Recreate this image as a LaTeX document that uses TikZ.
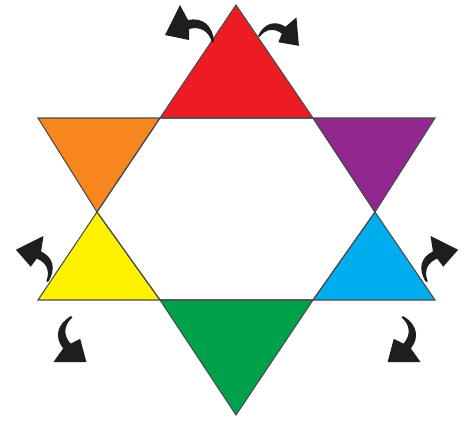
\documentclass[tikz,border=0pt]{standalone}
\definecolor{cred}{HTML}{ED1C24}
\definecolor{corange}{HTML}{F7861E}
\definecolor{cpurple}{HTML}{92278F}
\definecolor{cyellow}{HTML}{FFF200}
\definecolor{cblue}{HTML}{00AEEF}
\definecolor{cgreen}{HTML}{00A14B}
\definecolor{cedge}{HTML}{4A4A4A}
\definecolor{carrow}{HTML}{1E1E1E}
\tikzset{
  tri/.style={draw=cedge, line width=0.6pt, line join=miter},
  swoosh/.pic={
    \fill[carrow] (0,0) .. controls (-1,-17) and (-12,-25) .. (-26,-22)
      -- (-34,-37) -- (-49,-7) -- (-25,-2) -- (-25,-13)
      .. controls (-14,-16) and (-5,-11) .. (-2,0.5) -- cycle;
  }
}
\begin{document}
\begin{tikzpicture}[x=0.02cm,y=-0.02cm]
\useasboundingbox (0,0) rectangle (465,420);
% star points
\coordinate (T) at (236,5);
\coordinate (B) at (236,415);
\coordinate (UL) at (38,118);
\coordinate (UR) at (435,118);
\coordinate (LL) at (38,300);
\coordinate (LR) at (435,300);
\coordinate (h1) at (160,118);
\coordinate (h2) at (313,118);
\coordinate (h3) at (97,212);
\coordinate (h4) at (375,212);
\coordinate (h5) at (160,300);
\coordinate (h6) at (313,300);
% triangles
\fill[tri, fill=cred] (T) -- (h2) -- (h1) -- cycle;
\fill[tri, fill=corange] (UL) -- (h1) -- (h3) -- cycle;
\fill[tri, fill=cpurple] (h2) -- (UR) -- (h4) -- cycle;
\fill[tri, fill=cyellow] (h3) -- (h5) -- (LL) -- cycle;
\fill[tri, fill=cblue] (h4) -- (LR) -- (h6) -- cycle;
\fill[tri, fill=cgreen] (h5) -- (h6) -- (B) -- cycle;
\draw[cedge, line width=0.6pt] (h1) -- (h2) (h2) -- (h4) (h4) -- (h6) (h6) -- (h5) (h5) -- (h3) (h3) -- (h1);
% curved arrows
\pic[shift={(214,42)}] {swoosh};
\pic[shift={(258,36)}, rotate=-21.6, xscale=-0.85, yscale=0.85] {swoosh};
\pic[shift={(48,282)}, rotate=-37, scale=0.92] {swoosh};
\pic[shift={(426,282)}, rotate=37, xscale=-0.92, yscale=0.92] {swoosh};
\pic[shift={(71,316)}, rotate=116.6, scale=0.98] {swoosh};
\pic[shift={(403,316)}, rotate=-116.6, xscale=-0.98, yscale=0.98] {swoosh};
\end{tikzpicture}
\end{document}
